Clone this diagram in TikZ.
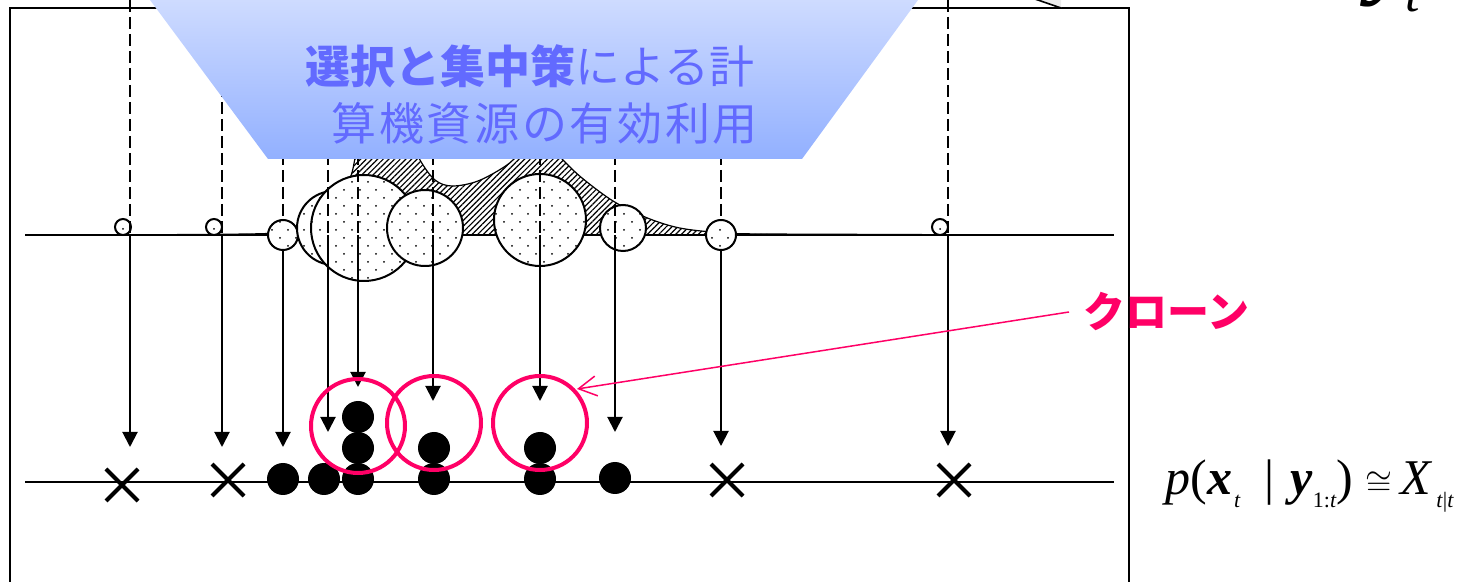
\documentclass[tikz,border=0pt]{standalone}
\usepackage{fontspec}
\usetikzlibrary{arrows.meta,patterns,patterns.meta}
\newfontfamily\jp{Noto Sans CJK JP}
\newfontfamily\tms{Liberation Serif}
\definecolor{trtop}{RGB}{206,219,255}
\definecolor{trbot}{RGB}{146,176,255}
\definecolor{jpblue}{RGB}{98,106,255}
\definecolor{clonepink}{RGB}{255,0,102}
\newcommand{\sbs}[1]{\raisebox{-0.25em}{\fontsize{11pt}{11pt}\selectfont #1}}
\tikzdeclarepattern{
  name=sdots, type=colored,
  bottom left={(-1pt,-1pt)}, top right={(7pt,7pt)},
  tile size={(8pt,8pt)},
  code={\fill[black] (0pt,0pt) circle (0.5pt); \fill[black] (4pt,4pt) circle (0.5pt);}
}
\begin{document}
\begin{tikzpicture}[x=0.5pt,y=-0.5pt,
  dashcol/.style={line width=1pt, dash pattern=on 6pt off 2.5pt},
  arrowcol/.style={line width=1pt, -{Triangle[length=7.5pt,width=7.5pt]}},
  dotcirc/.style={line width=1pt, preaction={fill=white}, preaction={pattern=sdots}},
  smallcirc/.style={line width=1pt, fill=white},
  axis/.style={line width=1pt},
  blackdot/.style={fill=black},
  xmark/.style={line width=2pt},
  clonecirc/.style={draw=clonepink, line width=2pt},
  jptext/.style={anchor=base west, inner sep=0pt, text=jpblue, font=\jp\fontsize{22.5pt}{22.5pt}\selectfont}
]
\useasboundingbox (0,0) rectangle (1484,582);

% frame
\draw[line width=1pt] (10,600) -- (10,8) -- (1129,8) -- (1129,600);

% upper axis
\coordinate (ua1) at (25,235); \coordinate (ua2) at (1114,235);
\draw[axis] (ua1) -- (ua2);

% hatched density
\fill[pattern={Lines[angle=45,distance=2pt,line width=0.6pt]}]
  plot[smooth,tension=0.55] coordinates {(177,234.5) (268,233.5) (300,229) (330,208) (350,178) (358,150) (380,120) (405,128) (420,160) (435,180) (452,186) (478,181) (507,165) (525,148) (542,138) (563,160) (582,178) (613,201) (645,217) (675,227) (706,231.5) (745,233.8) (922,234.5)} -- cycle;
\draw[line width=0.6pt]
  plot[smooth,tension=0.55] coordinates {(177,234.5) (268,233.5) (300,229) (330,208) (350,178) (358,150) (380,120) (405,128) (420,160) (435,180) (452,186) (478,181) (507,165) (525,148) (542,138) (563,160) (582,178) (613,201) (645,217) (675,227) (706,231.5) (745,233.8) (922,234.5)};

% weighted particles
\draw[smallcirc] (123,227) circle (4pt); \fill (123,229) circle (0.5pt);
\draw[smallcirc] (214,227) circle (4pt); \fill (214,229) circle (0.5pt);
\draw[smallcirc] (940,227) circle (4pt); \fill (940,229) circle (0.5pt);
\draw[dotcirc] (283,235) circle (7.5pt);
\draw[dotcirc] (334,228) circle (18.5pt);
\draw[dotcirc] (364,228) circle (26.5pt);
\draw[dotcirc] (425,228) circle (19pt);
\draw[dotcirc] (540,220) circle (23pt);
\draw[dotcirc] (623,228) circle (11.5pt);
\draw[dotcirc] (721,235) circle (7.5pt);

% columns
\foreach \x/\ys/\ye/\tp [count=\i] in {130/235/235/447, 222/235/235/447, 283/220/250/447, 328/235/235/432, 358/235/235/387, 433/235/235/401, 540/235/235/401, 615/235/235/432, 721/220/250/446, 948/235/235/446}{
  \coordinate (top\i) at (\x,0);
  \coordinate (mid\i) at (\x,\ys);
  \coordinate (bot\i) at (\x,\ye);
  \coordinate (tip\i) at (\x,\tp);
  \draw[dashcol] (top\i) -- (mid\i);
  \draw[arrowcol] (bot\i) -- (tip\i);
}

% lower axis
\coordinate (la1) at (25,482); \coordinate (la2) at (1114,482);
\draw[axis] (la1) -- (la2);

% resampled particles
\foreach \x/\y in {283/479, 324/479, 358/479, 358/448, 358/417, 434/448, 434/479, 540/448, 540/479, 615/478}{
  \fill[blackdot] (\x,\y) circle (8pt);
}
% discarded particles
\foreach \x/\y in {122/485, 228/480, 727/480, 954/480}{
  \draw[xmark] (\x-16,\y-16) -- (\x+16,\y+16);
  \draw[xmark] (\x-16,\y+16) -- (\x+16,\y-16);
}

% clone circles
\draw[clonecirc] (358,426) circle (23.5pt);
\draw[clonecirc] (434,423) circle (23.5pt);
\draw[clonecirc] (540,423) circle (23.5pt);

% clone label
\node[anchor=base west, inner sep=0pt, text=clonepink, font=\jp\bfseries\fontsize{21pt}{21pt}\selectfont] (clone) at (1083,328) {クローン};
\coordinate (ctip) at (577,389);
\draw[clonepink, line width=0.75pt, -{Straight Barb[length=9pt,width=10pt]}] ([xshift=-7pt]clone.west) -- (ctip);

% trapezoid banner
\shade[top color=trtop, bottom color=trbot] (150,0) -- (918,0) -- (802,159) -- (268,159) -- cycle;
\node[jptext] (t1) at (305,84) {\textbf{選択と集中策}による計};
\node[jptext] (t2) at (331,141) {\addfontfeature{LetterSpace=6}算機資源の有効利用};

% small grey shape at top
\fill[gray!15] (1035,0) -- (1061,0) -- (1061,8) -- cycle;
\draw[line width=0.8pt] (1035,-1) -- (1061,8);

% partial title y_t
\node[anchor=base west, inner sep=0pt] (ytitle) at (1370,-14) {\tms\fontsize{50pt}{50pt}\selectfont\textbf{\textit{y}}\hspace{-5pt}\raisebox{-13pt}{\fontsize{26pt}{26pt}\selectfont\textit{t}}};

% formula
\node[anchor=base west, inner sep=0pt] (formula) at (1165,495) {\tms\fontsize{25pt}{25pt}\selectfont\textit{p}(\textbf{\textit{x}}\hspace{1pt}\sbs{\textit{t}}\hspace{12pt}|\hspace{8pt}\textbf{\textit{y}}\sbs{1:\textit{t}})\hspace{6pt}{\fontsize{17pt}{17pt}\selectfont$\cong$}\hspace{4pt}\textit{X}\hspace{2pt}\sbs{\textit{t}|\textit{t}}};
\end{tikzpicture}
\end{document}
